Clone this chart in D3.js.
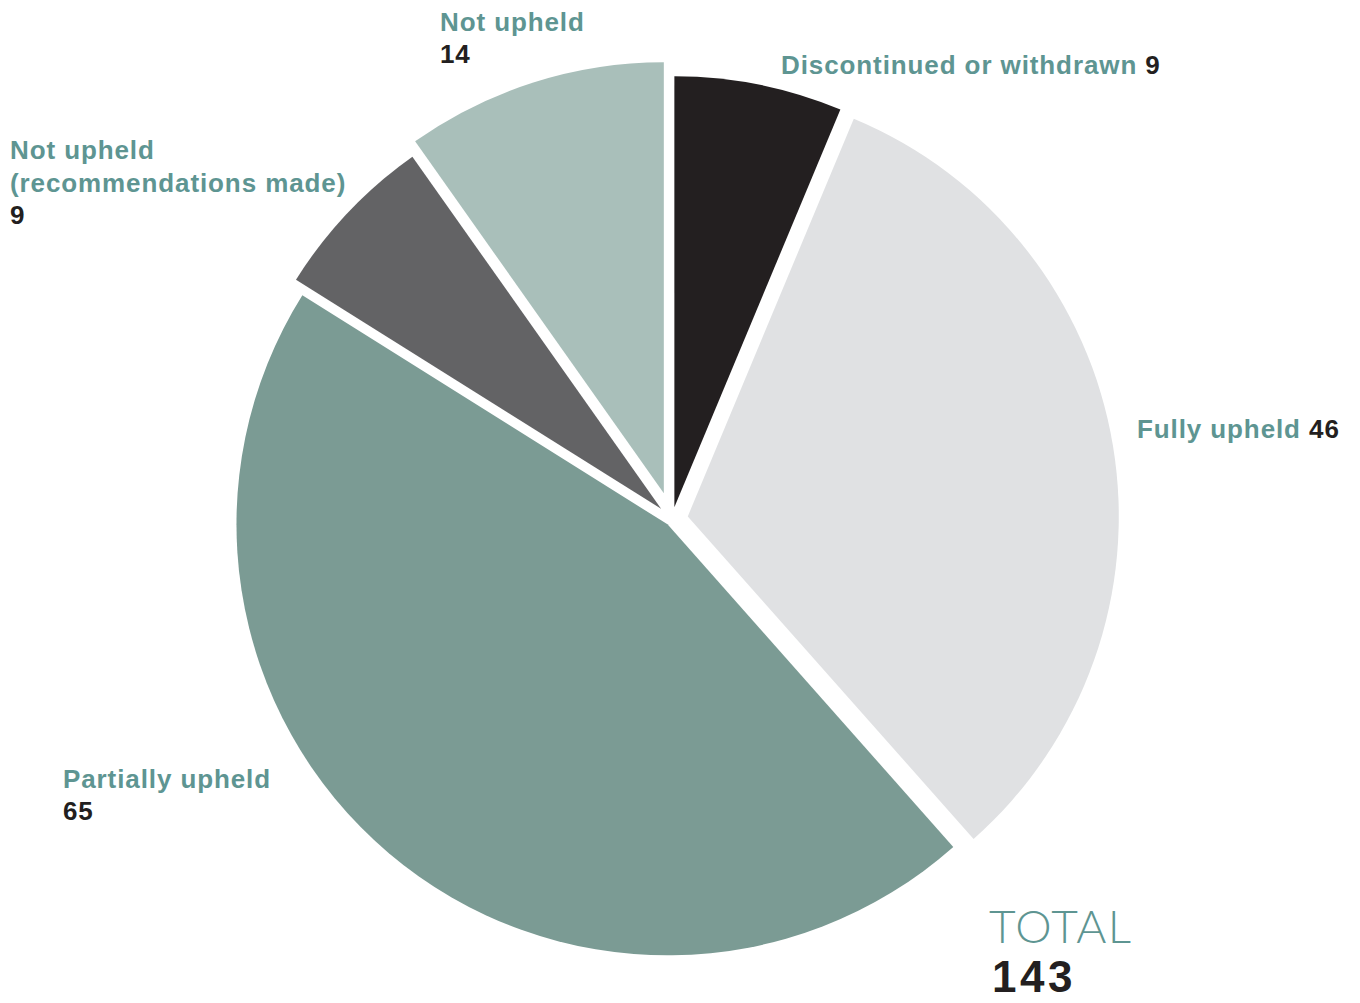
<!DOCTYPE html>
<html>
<head>
<meta charset="utf-8">
<script src="https://cdn.jsdelivr.net/npm/d3@7"></script>
<style>
  html, body { margin: 0; padding: 0; background: #fff; }
  svg text { font-family: "Liberation Sans", Arial, sans-serif; }
</style>
</head>
<body>
<svg id="chart" width="1360" height="1003"></svg>
<script>
// data
const categories = ["Discontinued or withdrawn", "Fully upheld", "Partially upheld", "Not upheld (recommendations made)", "Not upheld"];
const values = [9, 46, 65, 9, 14];
const totalLabel = "TOTAL";

// colours per slice
const colors = ["#231f20", "#e0e1e3", "#7b9b94", "#636365", "#a9bfba"];

// how far each slice is pulled out from the centre
const explode = [12, 16, 7, 15, 27];

// label layout: lines of the name, whether the value goes inline, x and first baseline
const labelLayout = [
  { lines: ["Discontinued or withdrawn"], inline: true, x: 781, y: 74 },
  { lines: ["Fully upheld"], inline: true, x: 1137, y: 438 },
  { lines: ["Partially upheld"], inline: false, x: 63, y: 788 },
  { lines: ["Not upheld", "(recommendations made)"], inline: false, x: 10, y: 159 },
  { lines: ["Not upheld"], inline: false, x: 440, y: 31 }
];

const teal = "#5e9592";
const dark = "#231f20";
const lineH = 33;

const svg = d3.select("#chart");
const cx = 672, cy = 519, radius = 431;

const pie = d3.pie().sort(null).value((d) => d);
const arc = d3.arc().innerRadius(0).outerRadius(radius);
const arcs = pie(values);

const g = svg.append("g").attr("transform", "translate(" + cx + "," + cy + ")");

g.selectAll("path")
  .data(arcs)
  .enter()
  .append("path")
  .attr("d", arc)
  .attr("fill", (d, i) => colors[i])
  .attr("transform", (d, i) => {
    const mid = (d.startAngle + d.endAngle) / 2;
    const dx = Math.sin(mid) * explode[i];
    const dy = -Math.cos(mid) * explode[i];
    return "translate(" + dx + "," + dy + ")";
  });

// labels
labelLayout.forEach((lab, i) => {
  const t = svg.append("text")
    .attr("x", lab.x)
    .attr("y", lab.y)
    .style("font-size", "26px")
    .style("font-weight", "bold")
    .style("letter-spacing", "0.9px");

  lab.lines.forEach((line, j) => {
    t.append("tspan")
      .attr("x", lab.x)
      .attr("y", lab.y + j * lineH)
      .attr("fill", teal)
      .text(line);
  });

  if (lab.inline) {
    t.append("tspan").attr("fill", dark).text(" " + values[i]);
  } else {
    t.append("tspan")
      .attr("x", lab.x)
      .attr("y", lab.y + lab.lines.length * lineH - 1)
      .attr("fill", dark)
      .text(values[i]);
  }
});

// total
svg.append("text")
  .attr("x", 989)
  .attr("y", 943)
  .attr("fill", teal)
  .style("font-family", "Lato, 'Open Sans', sans-serif")
  .style("font-weight", 300)
  .style("font-size", "46px")
  .style("letter-spacing", "1.5px")
  .text(totalLabel);

svg.append("text")
  .attr("x", 992)
  .attr("y", 992)
  .attr("fill", dark)
  .style("font-weight", "bold")
  .style("font-size", "44px")
  .style("letter-spacing", "3.5px")
  .text(d3.sum(values));
</script>
</body>
</html>
